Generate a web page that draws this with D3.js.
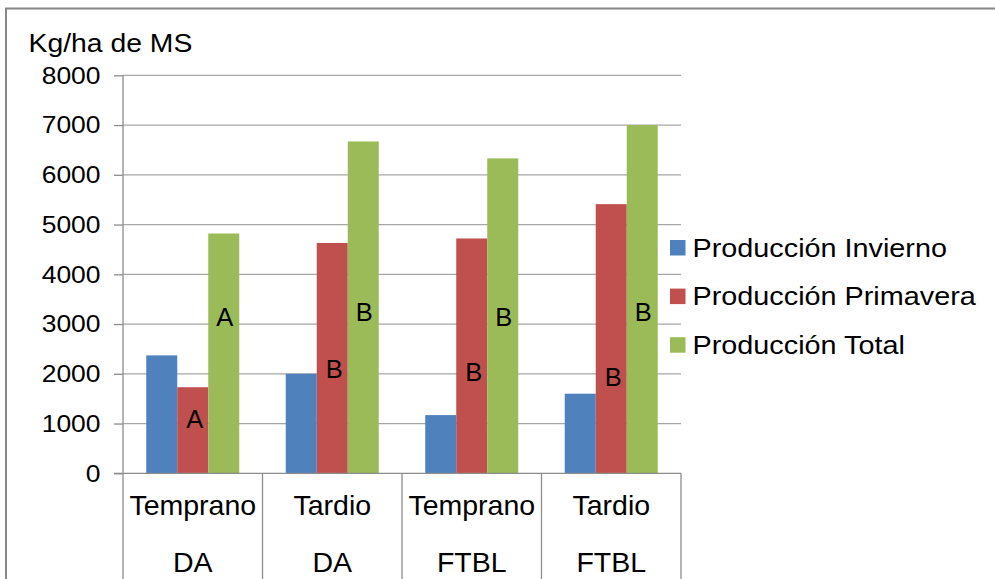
<!DOCTYPE html>
<html>
<head>
<meta charset="utf-8">
<script src="https://cdn.jsdelivr.net/npm/d3@7"></script>
<style>
  html, body { margin: 0; padding: 0; background: #fff; }
  svg { display: block; font-family: 'Liberation Sans', Arial, sans-serif; }
</style>
</head>
<body>
<svg id="chart"></svg>
<script>
// Data
const categories = ['Temprano|DA', 'Tardio|DA', 'Temprano|FTBL', 'Tardio|FTBL']
const seriesNames = ['Producción Invierno', 'Producción Primavera', 'Producción Total']
const invierno = [2370, 2000, 1170, 1600]
const primavera = [1730, 4630, 4720, 5410]
const total = [4820, 6670, 6330, 7000]
const yTicks = [0, 1000, 2000, 3000, 4000, 5000, 6000, 7000, 8000]

// Significance letters and the value where each sits
const lettersPrimavera = ['A', 'B', 'B', 'B']
const lettersPrimaveraAt = [1100, 2100, 2050, 1950]
const lettersTotal = ['A', 'B', 'B', 'B']
const lettersTotalAt = [3150, 3250, 3150, 3250]

const colors = ['#4F81BD', '#C0504D', '#9BBB59']

const svgWidth = 995
const svgHeight = 579
const plot = { left: 123, right: 681, top: 75.3, bottom: 473.3 }

const svg = d3.select('#chart')
  .attr('width', svgWidth)
  .attr('height', svgHeight)

// outer chart border (only top and left visible)
svg.append('rect')
  .attr('x', 6).attr('y', 8.5)
  .attr('width', svgWidth + 20).attr('height', svgHeight + 20)
  .attr('fill', 'none')
  .attr('stroke', '#868686')
  .attr('stroke-width', 2)

// helper for slightly wide text
function label (g, x, y, txt, size, sx, anchor) {
  return g.append('text')
    .attr('transform', `translate(${x},${y}) scale(${sx},1)`)
    .attr('text-anchor', anchor || 'start')
    .attr('font-size', size)
    .attr('fill', '#000')
    .text(txt)
}

const x0 = d3.scaleBand()
  .domain(categories)
  .range([plot.left, plot.right])
  .padding(0)

const x1 = d3.scaleBand()
  .domain(d3.range(3))
  .range([0, x0.bandwidth()])
  .paddingInner(0)
  .paddingOuter(0.75)

const y = d3.scaleLinear()
  .domain([0, 8000])
  .range([plot.bottom, plot.top])

// gridlines
svg.append('g')
  .selectAll('line')
  .data(yTicks.filter(d => d > 0))
  .join('line')
  .attr('x1', plot.left).attr('x2', plot.right)
  .attr('y1', d => y(d)).attr('y2', d => y(d))
  .attr('stroke', '#a6a6a6')
  .attr('stroke-width', 1.3)

// y axis
const yAxis = d3.axisLeft(y)
  .tickValues(yTicks)
  .tickSize(9)
  .tickFormat('')
const yAxisG = svg.append('g')
  .attr('transform', `translate(${plot.left},0)`)
  .call(yAxis)
yAxisG.select('.domain').remove()
yAxisG.selectAll('.tick line').attr('stroke', '#8c8c8c').attr('stroke-width', 1.3)

const tickLabels = svg.append('g')
yTicks.forEach(t => {
  label(tickLabels, 100.5, y(t) + 8.2, String(t), 23, 1.15, 'end')
})

// bars
const seriesValues = [invierno, primavera, total]
const rows = []
categories.forEach((c, i) => {
  seriesValues.forEach((vals, s) => rows.push({ cat: c, s, v: vals[i] }))
})

svg.append('g')
  .selectAll('rect')
  .data(rows)
  .join('rect')
  .attr('x', d => x0(d.cat) + x1(d.s))
  .attr('y', d => y(d.v))
  .attr('width', x1.bandwidth())
  .attr('height', d => y(0) - y(d.v))
  .attr('fill', d => colors[d.s])

// y axis line and x axis with category dividers
svg.append('line')
  .attr('x1', plot.left).attr('x2', plot.left)
  .attr('y1', plot.top).attr('y2', svgHeight)
  .attr('stroke', '#8c8c8c').attr('stroke-width', 1.3)

svg.append('line')
  .attr('x1', plot.left - 9).attr('x2', plot.right)
  .attr('y1', plot.bottom).attr('y2', plot.bottom)
  .attr('stroke', '#8c8c8c').attr('stroke-width', 1.3)

svg.append('g')
  .selectAll('line')
  .data(categories)
  .join('line')
  .attr('x1', d => x0(d) + x0.bandwidth()).attr('x2', d => x0(d) + x0.bandwidth())
  .attr('y1', plot.bottom).attr('y2', svgHeight)
  .attr('stroke', '#8c8c8c').attr('stroke-width', 1.3)

// category labels (two rows)
const catG = svg.append('g')
categories.forEach(c => {
  const [top, bottom] = c.split('|')
  const cx = x0(c) + x0.bandwidth() / 2
  label(catG, cx, 515, top, 28.5, 1, 'middle')
  label(catG, cx, 571.5, bottom, 28.5, 1, 'middle')
})

// significance letters
const letterG = svg.append('g')
categories.forEach((c, i) => {
  label(letterG, x0(c) + x1(1) + x1.bandwidth() / 2 + 2, y(lettersPrimaveraAt[i]) + 9.5,
    lettersPrimavera[i], 25.5, 1, 'middle')
  label(letterG, x0(c) + x1(2) + x1.bandwidth() / 2 + 1, y(lettersTotalAt[i]) + 9.5,
    lettersTotal[i], 25.5, 1, 'middle')
})

// axis title
label(svg, 28.5, 51.5, 'Kg/ha de MS', 26, 1.09, 'start')

// legend
const legend = svg.append('g')
  .attr('transform', 'translate(670, 240)')
seriesNames.forEach((name, i) => {
  const row = legend.append('g').attr('transform', `translate(0, ${i * 48.6})`)
  row.append('rect')
    .attr('width', 15.5).attr('height', 15.5)
    .attr('fill', colors[i])
  label(row, 22.5, 16.8, name, 25.5, 1.13, 'start')
})
</script>
</body>
</html>
